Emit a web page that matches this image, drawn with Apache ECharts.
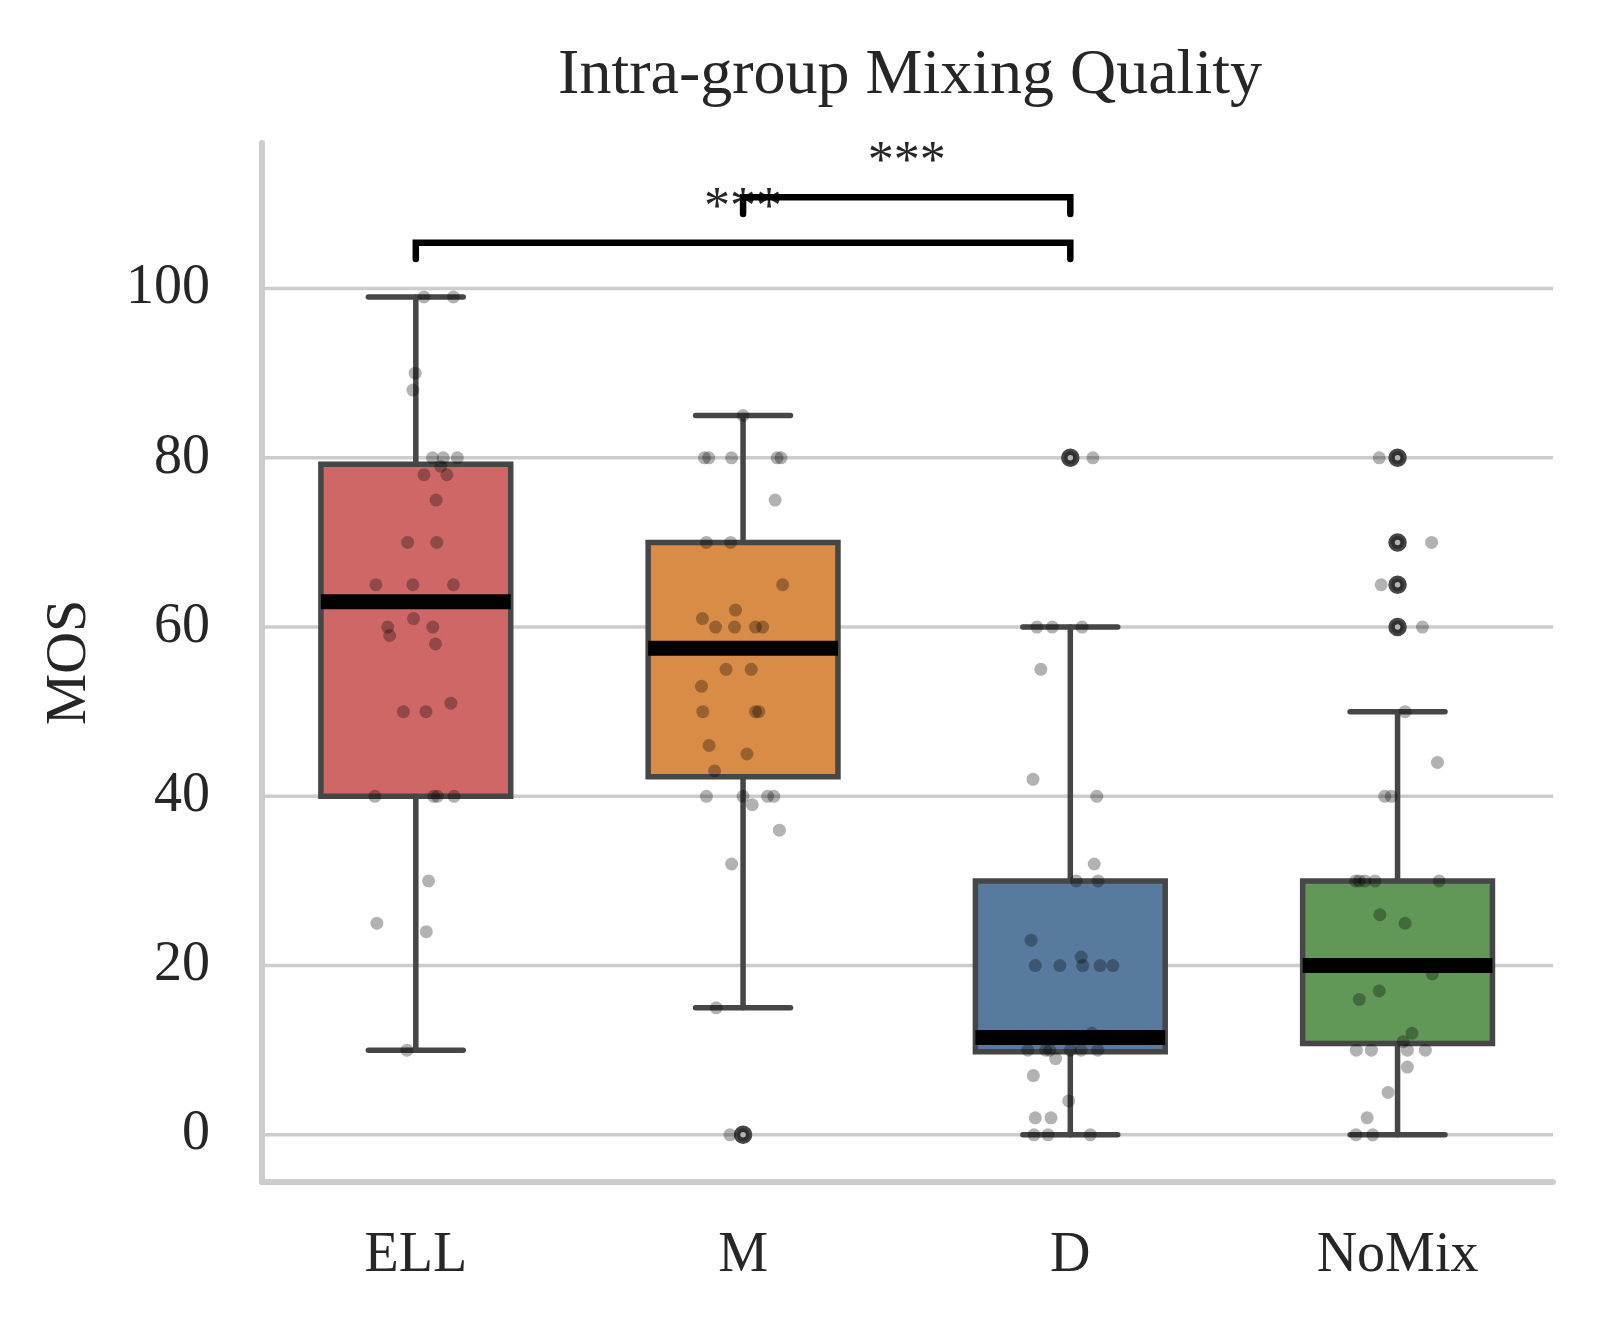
<!DOCTYPE html>
<html>
<head>
<meta charset="utf-8">
<script src="https://cdn.jsdelivr.net/npm/echarts@6/dist/echarts.min.js"></script>
<style>
html,body{margin:0;padding:0;background:#ffffff;}
#chart{width:1600px;height:1323px;}
</style>
</head>
<body>
<div id="chart"></div>
<script>
// ---------------- data ----------------
const categories = ['ELL', 'M', 'D', 'NoMix'];
const yTickValues = [0, 20, 40, 60, 80, 100];

// box statistics: [lower whisker, Q1, median, Q3, upper whisker]
const boxELL   = [10, 40, 63, 79.25, 99];
const boxM     = [15, 42.3, 57.5, 70, 85];
const boxD     = [0, 9.8, 11.5, 30, 60];
const boxNoMix = [0, 10.8, 20, 30, 50];

// fliers
const outliersELL   = [];
const outliersM     = [0];
const outliersD     = [80];
const outliersNoMix = [80, 70, 65, 60];

// individual ratings (strip plot) and their jitter (category units)
const valuesELL = [99, 99, 90, 88, 80, 80, 80, 79, 78, 78, 75, 70, 70, 65, 65, 65, 61, 60, 60, 59, 58, 50, 50, 51, 40, 40, 40, 40, 30, 25, 24, 10];
const jitterELL = [0.025, 0.115, -0.002, -0.009, 0.051, 0.084, 0.127, 0.076, 0.025, 0.095, 0.062, -0.025, 0.064, -0.122, -0.009, 0.115, -0.007, -0.086, 0.052, -0.080, 0.060, -0.038, 0.031, 0.107, -0.125, 0.055, 0.066, 0.117, 0.039, -0.119, 0.032, -0.027];

const valuesM = [85, 80, 80, 80, 80, 80, 75, 70, 70, 65, 62, 61, 60, 60, 60, 60, 55, 55, 53, 50, 50, 50, 46, 45, 43, 40, 40, 40, 40, 39, 36, 32, 15, 0, 0];
const jitterM = [0.0, -0.118, -0.105, -0.035, 0.104, 0.116, 0.098, -0.112, -0.038, 0.121, -0.023, -0.124, -0.084, -0.026, 0.038, 0.060, -0.052, 0.025, -0.127, -0.123, 0.038, 0.048, -0.104, 0.012, -0.087, -0.112, 0.0, 0.075, 0.094, 0.028, 0.111, -0.035, -0.082, -0.040, 0.0];

const valuesD = [80, 80, 60, 60, 60, 55, 42, 40, 32, 30, 30, 23, 21, 20, 20, 20, 20, 20, 12, 10, 10, 10, 10, 10, 10, 9, 7, 4, 2, 2, 0, 0, 0];
const jitterD = [0.0, 0.069, -0.102, -0.055, 0.036, -0.090, -0.114, 0.081, 0.073, 0.018, 0.085, -0.120, 0.033, -0.107, -0.032, 0.038, 0.091, 0.130, 0.066, -0.130, -0.075, -0.063, 0.0, 0.033, 0.084, -0.045, -0.113, -0.005, -0.107, -0.059, -0.111, -0.068, 0.061];

const valuesNoMix = [80, 80, 70, 70, 65, 65, 60, 60, 50, 44, 40, 40, 30, 30, 30, 30, 30, 26, 25, 19, 17, 16, 12, 11, 10, 10, 10, 10, 8, 5, 2, 0, 0];
const jitterNoMix = [0.0, -0.056, 0.0, 0.104, 0.0, -0.050, 0.0, 0.076, 0.023, 0.122, -0.039, -0.019, -0.128, -0.117, -0.100, -0.069, 0.127, -0.054, 0.023, 0.106, -0.056, -0.117, 0.044, 0.017, -0.126, -0.080, 0.030, 0.085, 0.030, -0.029, -0.093, -0.127, -0.076];

// significance brackets
const bracketFrom = [0, 1];
const bracketTo   = [2, 2];
const bracketLow  = [103.5, 108.8];
const bracketHigh = [105.4, 110.8];
const bracketText = ['***', '***'];

// ---------------- styles ----------------
const FONT = "'Liberation Serif', 'Times New Roman', Times, serif";
const TEXT_COLOR = '#262626';
const BOX_COLORS = ['#d06767', '#d98c46', '#587a9e', '#619858'];
const EDGE = '#464646';
const GRID_COLOR = '#cccccc';
const BOX_HALF = 0.29;   // half box width in category units

// ---------------- build series data ----------------
const boxes = [boxELL, boxM, boxD, boxNoMix];
const boxData = boxes.map((b, i) => [i].concat(b));

const allOutliers = [outliersELL, outliersM, outliersD, outliersNoMix];
const outlierData = [];
allOutliers.forEach((arr, i) => arr.forEach(v => outlierData.push([i, v])));

const allValues = [valuesELL, valuesM, valuesD, valuesNoMix];
const allJitter = [jitterELL, jitterM, jitterD, jitterNoMix];
const stripData = [];
allValues.forEach((arr, i) => arr.forEach((v, k) => stripData.push([i + allJitter[i][k], v])));

const bracketData = bracketFrom.map((f, i) => [f, bracketTo[i], bracketLow[i], bracketHigh[i], i]);

const gridData = yTickValues.map(v => [0, v]);

// ---------------- chart ----------------
const chart = echarts.init(document.getElementById('chart'), null, {renderer: 'canvas'});

const option = {
  animation: false,
  backgroundColor: '#ffffff',
  textStyle: {fontFamily: FONT},
  title: {
    text: 'Intra-group Mixing Quality',
    left: 905,
    top: 39,
    textAlign: 'center',
    textStyle: {fontFamily: FONT, fontSize: 64, fontWeight: 'normal', color: TEXT_COLOR}
  },
  grid: {left: 262, right: 47, top: 143, bottom: 141, containLabel: false, outerBoundsMode: 'none'},
  xAxis: {
    type: 'value',
    min: -0.47,
    max: 3.475,
    axisLine: {show: true, onZero: false, lineStyle: {color: GRID_COLOR, width: 6}},
    axisTick: {show: false},
    splitLine: {show: false},
    axisLabel: {
      customValues: [0, 1, 2, 3],
      formatter: v => categories[Math.round(v)],
      fontSize: 56,
      fontFamily: FONT,
      color: TEXT_COLOR,
      margin: 46
    }
  },
  yAxis: {
    type: 'value',
    min: -5.58,
    max: 117.2,
    name: 'MOS',
    nameLocation: 'middle',
    nameGap: 163,
    nameTextStyle: {fontSize: 58, fontFamily: FONT, color: TEXT_COLOR},
    axisLine: {show: true, onZero: false, lineStyle: {color: GRID_COLOR, width: 6}},
    axisTick: {show: false},
    splitLine: {show: false},
    axisLabel: {
      customValues: yTickValues,
      fontSize: 56,
      fontFamily: FONT,
      color: TEXT_COLOR,
      margin: 52
    }
  },
  series: [
    {
      // horizontal grid lines
      type: 'custom',
      silent: true,
      z: 1,
      data: gridData,
      encode: {x: 0, y: 1},
      renderItem: function (params, api) {
        const cs = params.coordSys;
        const p = api.coord([0, api.value(1)]);
        return {
          type: 'line',
          shape: {x1: cs.x, y1: p[1], x2: cs.x + cs.width, y2: p[1]},
          style: {stroke: GRID_COLOR, lineWidth: 3.5}
        };
      }
    },
    {
      // box plots
      type: 'custom',
      silent: true,
      z: 2,
      data: boxData,
      encode: {x: 0, y: [1, 2, 3, 4, 5]},
      renderItem: function (params, api) {
        const xi = api.value(0);
        const pLo = api.coord([xi, api.value(1)]);
        const pQ1 = api.coord([xi, api.value(2)]);
        const pMed = api.coord([xi, api.value(3)]);
        const pQ3 = api.coord([xi, api.value(4)]);
        const pHi = api.coord([xi, api.value(5)]);
        const unit = api.size([1, 0])[0];
        const half = unit * BOX_HALF;
        const capHalf = half * 0.5;
        const cx = pLo[0];
        const lineStyle = {stroke: EDGE, lineWidth: 5.5, lineCap: 'round'};
        return {
          type: 'group',
          children: [
            {type: 'line', shape: {x1: cx, y1: pQ1[1], x2: cx, y2: pLo[1]}, style: lineStyle},
            {type: 'line', shape: {x1: cx, y1: pQ3[1], x2: cx, y2: pHi[1]}, style: lineStyle},
            {type: 'line', shape: {x1: cx - capHalf, y1: pLo[1], x2: cx + capHalf, y2: pLo[1]}, style: lineStyle},
            {type: 'line', shape: {x1: cx - capHalf, y1: pHi[1], x2: cx + capHalf, y2: pHi[1]}, style: lineStyle},
            {type: 'rect', shape: {x: cx - half, y: pQ3[1], width: 2 * half, height: pQ1[1] - pQ3[1]},
              style: {fill: BOX_COLORS[params.dataIndex], stroke: EDGE, lineWidth: 5.5}},
            {type: 'line', shape: {x1: cx - half, y1: pMed[1], x2: cx + half, y2: pMed[1]},
              style: {stroke: '#000000', lineWidth: 15, lineCap: 'butt'}}
          ]
        };
      }
    },
    {
      // fliers
      type: 'scatter',
      silent: true,
      z: 3,
      symbol: 'circle',
      symbolSize: 12,
      itemStyle: {color: '#ffffff', borderColor: EDGE, borderWidth: 6.5, opacity: 1},
      data: outlierData
    },
    {
      // individual ratings
      type: 'scatter',
      silent: true,
      z: 4,
      symbol: 'circle',
      symbolSize: 13,
      itemStyle: {color: '#000000', opacity: 0.3},
      data: stripData
    },
    {
      // significance brackets
      type: 'custom',
      silent: true,
      z: 5,
      data: bracketData,
      encode: {x: [0, 1], y: [2, 3]},
      renderItem: function (params, api) {
        const a = api.coord([api.value(0), api.value(2)]);
        const b = api.coord([api.value(0), api.value(3)]);
        const c = api.coord([api.value(1), api.value(3)]);
        const d = api.coord([api.value(1), api.value(2)]);
        return {
          type: 'group',
          children: [
            {type: 'text', x: (b[0] + c[0]) / 2, y: b[1] - 8,
              style: {text: bracketText[params.dataIndex], fill: TEXT_COLOR, font: '52px ' + FONT,
                align: 'center', verticalAlign: 'bottom'}},
            {type: 'polyline', shape: {points: [a, b, c, d]},
              style: {stroke: '#000000', lineWidth: 6.5, fill: null, lineJoin: 'miter', lineCap: 'round'}}
          ]
        };
      }
    }
  ]
};

chart.setOption(option);
</script>
</body>
</html>
